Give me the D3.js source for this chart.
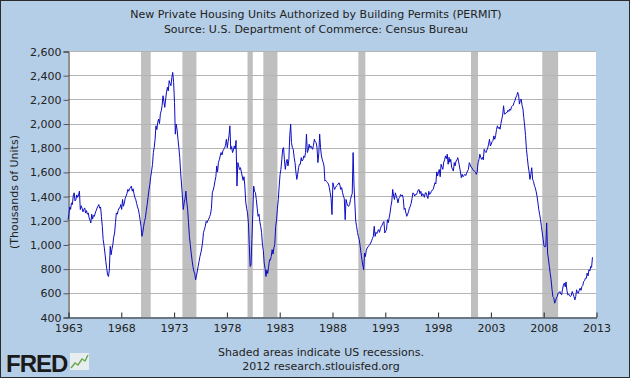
<!DOCTYPE html>
<html><head><meta charset="utf-8">
<script src="https://cdn.jsdelivr.net/npm/d3@7"></script>
<style>html,body{margin:0;padding:0;background:#b5cee7}svg{display:block}</style>
</head><body><svg id="c" width="630" height="378"></svg>
<script>
// ---- DATA ----
const startYear = 1963; // first month: Jan 1963, monthly, SAAR thousands of units
const permits = [
  1205,1250,1310,1290,1344,1330,1400,1427,1360,1372,1410,1390, // 1963
  1410,1441,1289,1320,1300,1270,1290,1302,1260,1280,1250,1261, // 1964
  1220,1200,1178,1250,1210,1240,1233,1260,1280,1300,1316,1330, // 1965
  1300,1310,1233,1150,1040,990,929,860,800,749,735,790,        // 1966
  985,915,960,1000,1060,1095,1180,1261,1250,1280,1300,1303,    // 1967
  1330,1290,1372,1316,1340,1380,1400,1420,1455,1440,1460,1470, // 1968
  1483,1441,1460,1420,1390,1372,1340,1310,1289,1250,1200,1150, // 1969
  1067,1100,1150,1192,1220,1280,1330,1390,1450,1496,1560,1607, // 1970
  1660,1760,1800,1870,1981,1950,2010,2037,2000,2080,2106,2150, // 1971
  2230,2180,2134,2203,2260,2300,2270,2355,2330,2313,2380,2423, // 1972
  2341,2175,1912,1995,1950,1870,1800,1720,1594,1500,1400,1289, // 1973
  1344,1380,1441,1350,1289,1180,1067,1000,929,870,818,780,     // 1974
  760,707,740,780,820,860,900,930,970,1020,1100,1122,          // 1975
  1150,1191,1180,1200,1210,1232,1250,1300,1427,1450,1480,1524, // 1976
  1560,1649,1600,1680,1700,1732,1760,1740,1774,1787,1800,1820, // 1977
  1870,1800,1850,1900,1981,1787,1810,1760,1780,1815,1790,1860, // 1978
  1483,1677,1650,1620,1635,1600,1566,1530,1560,1483,1350,1300, // 1979
  1261,1180,1000,818,830,1040,1250,1483,1440,1430,1372,1300,   // 1980
  1233,1250,1190,1150,1100,1000,950,846,800,735,790,760,       // 1981
  820,874,870,900,957,920,970,1000,1150,1200,1300,1372,        // 1982
  1483,1580,1621,1700,1787,1801,1700,1621,1680,1704,1649,1700, // 1983
  1898,1995,1843,1800,1787,1720,1677,1600,1538,1580,1635,1663, // 1984
  1663,1718,1690,1700,1732,1720,1760,1912,1760,1780,1829,1800, // 1985
  1815,1800,1787,1820,1870,1850,1843,1800,1677,1750,1912,1800, // 1986
  1732,1700,1680,1649,1524,1530,1520,1510,1500,1470,1427,1380, // 1987
  1247,1510,1480,1455,1470,1483,1490,1500,1510,1490,1455,1470, // 1988
  1427,1400,1380,1205,1372,1340,1320,1316,1330,1370,1400,1420, // 1989
  1760,1483,1350,1192,1150,1100,1067,1040,985,930,874,830,     // 1990
  790,929,900,950,971,980,990,1000,1012,1030,1050,1067,        // 1991
  1150,1067,1100,1090,1110,1123,1100,1130,1150,1160,1178,1190, // 1992
  1095,1110,1123,1205,1180,1220,1260,1316,1360,1455,1400,1372, // 1993
  1427,1400,1380,1344,1380,1390,1413,1400,1410,1380,1289,1300, // 1994
  1260,1233,1250,1270,1300,1316,1340,1380,1427,1420,1400,1413, // 1995
  1413,1430,1450,1455,1420,1440,1400,1420,1410,1390,1427,1427, // 1996
  1400,1380,1440,1413,1420,1440,1450,1455,1483,1510,1500,1600, // 1997
  1566,1600,1620,1560,1663,1640,1621,1680,1700,1732,1710,1746, // 1998
  1663,1720,1680,1704,1640,1620,1607,1677,1650,1690,1700,1718, // 1999
  1680,1640,1600,1552,1580,1560,1570,1580,1570,1590,1607,1620, // 2000
  1677,1660,1640,1635,1620,1610,1607,1600,1580,1600,1677,1700, // 2001
  1746,1720,1704,1720,1700,1787,1770,1760,1780,1800,1830,1870, // 2002
  1815,1830,1850,1860,1898,1870,1900,1950,1981,1960,1970,1953, // 2003
  2000,2037,2070,2147,2078,2080,2090,2092,2110,2100,2120,2110, // 2004
  2140,2147,2150,2175,2190,2217,2230,2258,2240,2161,2190,2203, // 2005
  2150,2120,2050,1981,1900,1787,1720,1649,1600,1538,1580,1635, // 2006
  1538,1520,1490,1469,1440,1400,1350,1289,1250,1205,1150,1095, // 2007
  1040,985,980,985,1178,929,880,818,760,707,630,569,           // 2008
  560,514,530,556,570,597,600,611,590,583,630,666,             // 2009
  680,650,690,620,583,590,575,569,580,611,590,569,             // 2010
  542,570,625,600,597,620,638,620,652,660,694,700,             // 2011
  721,720,763,740,790,780,818,810,894                          // 2012
];
const recessions = [
  ["1969-12", "1970-11"], ["1973-11", "1975-03"], ["1980-01", "1980-07"],
  ["1981-07", "1982-11"], ["1990-07", "1991-03"], ["2001-03", "2001-11"],
  ["2007-12", "2009-06"]
];
const yTicks = [400, 600, 800, 1000, 1200, 1400, 1600, 1800, 2000, 2200, 2400, 2600];
const xTickYears = [1963, 1968, 1973, 1978, 1983, 1988, 1993, 1998, 2003, 2008, 2013];
const titleLines = ["New Private Housing Units Authorized by Building Permits (PERMIT)",
                    "Source: U.S. Department of Commerce: Census Bureau"];
const yLabel = "(Thousands of Units)";
const footLines = ["Shaded areas indicate US recessions.", "2012 research.stlouisfed.org"];

// ---- CHART ----
const W = 630, H = 378;
const L = 68, R = 596, T = 51, B = 317;
const font = "'DejaVu Sans', Verdana, sans-serif";
const svg = d3.select("#c");
const parseM = d3.timeParse("%Y-%m");
const series = permits.map((v, i) => ({date: new Date(startYear + Math.floor(i / 12), i % 12, 1), value: v}));

const x = d3.scaleTime().domain([new Date(1963, 0, 1), new Date(2013, 0, 1)]).range([L, R]);
const y = d3.scaleLinear().domain([400, 2600]).range([B, T]);

svg.append("rect").attr("x", 0.5).attr("y", 0.5).attr("width", W - 1).attr("height", H - 1)
  .attr("fill", "#b5cee7").attr("stroke", "#2b2b2b");

svg.append("rect").attr("x", L).attr("y", T).attr("width", R - L).attr("height", B - T).attr("fill", "#fff");

// recession bars
svg.append("g").selectAll("rect").data(recessions).join("rect")
  .attr("x", d => x(parseM(d[0])))
  .attr("width", d => x(parseM(d[1])) - x(parseM(d[0])))
  .attr("y", T).attr("height", B - T).attr("fill", "#bfbfbf");

// grid lines
svg.append("g").selectAll("line").data(yTicks.slice(1)).join("line")
  .attr("x1", L).attr("x2", R).attr("y1", d => Math.round(y(d)) + 0.5).attr("y2", d => Math.round(y(d)) + 0.5)
  .attr("stroke", "#b4b4b4").attr("stroke-width", 1);

// y axis
const yAxis = d3.axisLeft(y).tickValues(yTicks).tickFormat(d3.format(",")).tickSize(5).tickPadding(2);
const gy = svg.append("g").attr("transform", `translate(${L + 0.5},0.5)`).call(yAxis);
gy.select(".domain").attr("stroke", "#222");
gy.selectAll(".tick line").attr("stroke", "#555");
gy.selectAll("text").attr("font-family", font).attr("font-size", 11).attr("fill", "#222");

// x axis (ticks inward)
const xAxis = d3.axisBottom(x).tickValues(xTickYears.map(yr => new Date(yr, 0, 1)))
  .tickFormat(d3.timeFormat("%Y")).tickSizeInner(-5).tickSizeOuter(0).tickPadding(5);
const gx = svg.append("g").attr("transform", `translate(0.5,${B + 0.5})`).call(xAxis);
gx.select(".domain").attr("stroke", "#222");
gx.selectAll(".tick line").attr("stroke", "#222");
gx.selectAll("text").attr("font-family", font).attr("font-size", 11).attr("fill", "#222").attr("dy", "0.9em");

// data line
svg.append("path").datum(series)
  .attr("d", d3.line().x(d => x(d.date)).y(d => y(d.value)))
  .attr("fill", "none").attr("stroke", "#0c0cc4").attr("stroke-width", 1).attr("stroke-linejoin", "miter");

// titles
svg.append("g").selectAll("text").data(titleLines).join("text")
  .attr("x", 316).attr("y", (d, i) => 18 + i * 15).attr("text-anchor", "middle")
  .attr("font-family", font).attr("font-size", 11).attr("fill", "#222").text(d => d);

svg.append("text").attr("transform", "translate(18,192) rotate(-90)").attr("text-anchor", "middle")
  .attr("font-family", font).attr("font-size", 11).attr("fill", "#222").text(yLabel);

svg.append("g").selectAll("text").data(footLines).join("text")
  .attr("x", 321).attr("y", (d, i) => 356 + i * 14).attr("text-anchor", "middle")
  .attr("font-family", font).attr("font-size", 11).attr("fill", "#222").text(d => d);

// FRED logo
const logo = svg.append("g");
logo.append("text").attr("x", 6).attr("y", 372).attr("font-family", "'Liberation Sans', Arial, sans-serif")
  .attr("font-weight", "bold").attr("font-size", 24).attr("letter-spacing", -1).attr("fill", "#1a1a1a").text("FRED");
logo.append("rect").attr("x", 70).attr("y", 353).attr("width", 19).attr("height", 17).attr("fill", "#e8eef0");
logo.append("path").attr("d", "M71,368 L75,363 L78,365 L82,359 L85,361 L88,355")
  .attr("fill", "none").attr("stroke", "#6aa84f").attr("stroke-width", 1.5);
</script></body></html>
